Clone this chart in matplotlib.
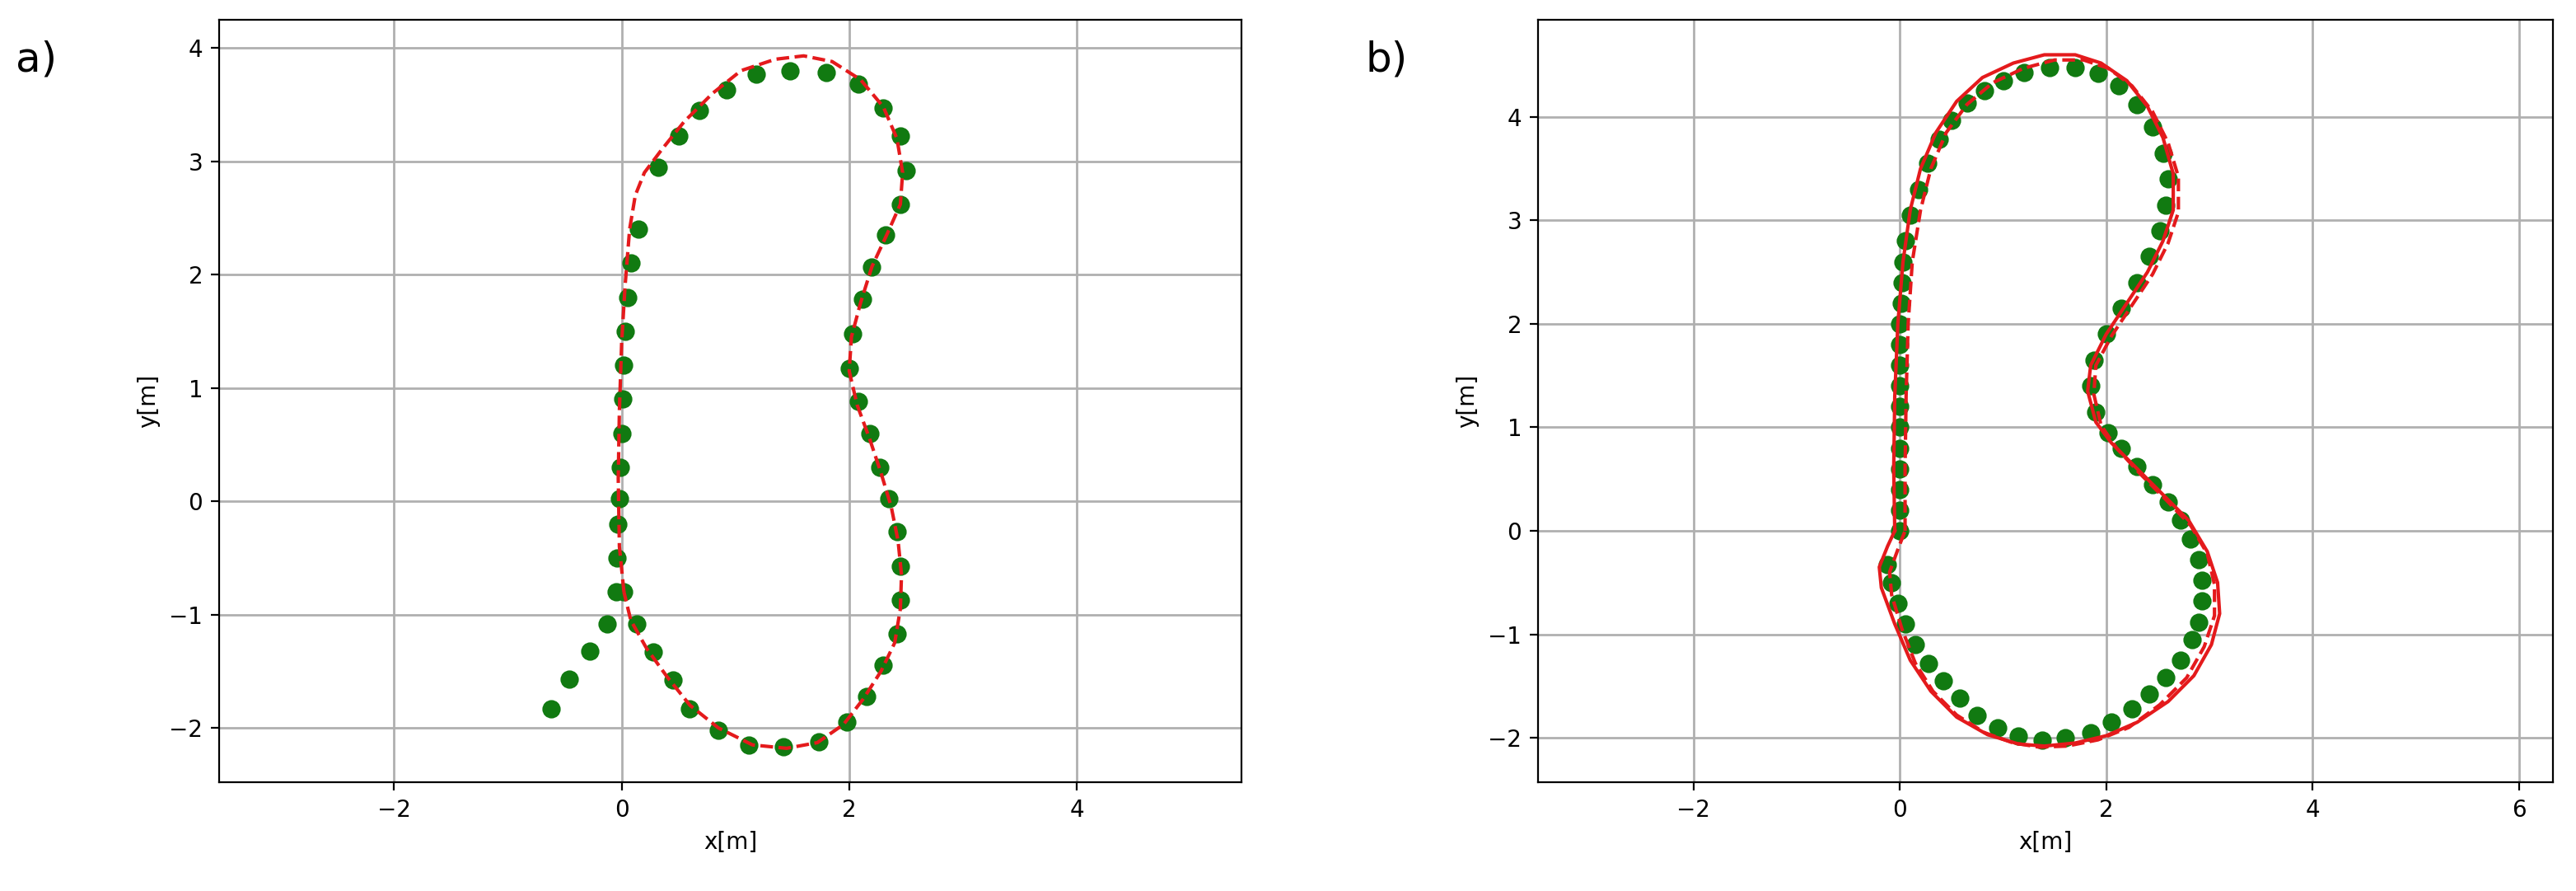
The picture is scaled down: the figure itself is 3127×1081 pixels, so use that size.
import matplotlib
matplotlib.use("Agg")
import matplotlib.pyplot as plt

# Panel a data
a_dots_x = [-0.62,-0.46,-0.28,-0.13,-0.05,-0.04,-0.03,-0.02,-0.01,0.0,0.01,0.02,0.03,0.05,0.08,0.15,
            0.32,0.5,0.68,0.92,1.18,1.48,1.8,2.08,2.3,2.45,2.5,2.45,2.32,2.2,2.12,2.03,2.0,2.08,2.18,
            2.27,2.35,2.42,2.45,2.45,2.42,2.3,2.15,1.98,1.73,1.42,1.12,0.85,0.6,0.45,0.28,0.13,0.02]
a_dots_y = [-1.83,-1.57,-1.32,-1.08,-0.8,-0.5,-0.2,0.02,0.3,0.6,0.9,1.2,1.5,1.8,2.1,2.4,
            2.95,3.22,3.45,3.63,3.77,3.8,3.78,3.68,3.47,3.22,2.92,2.62,2.35,2.07,1.78,1.48,1.17,0.88,0.6,
            0.3,0.02,-0.27,-0.57,-0.87,-1.17,-1.45,-1.72,-1.95,-2.12,-2.17,-2.15,-2.02,-1.83,-1.58,-1.33,-1.08,-0.8]
a_line_x = [0.02,-0.02,-0.03,-0.02,0.0,0.03,0.07,0.12,0.2,0.35,0.55,0.8,1.05,1.35,1.6,1.85,2.1,2.3,2.42,
            2.47,2.45,2.33,2.2,2.1,2.02,2.0,2.07,2.18,2.28,2.37,2.43,2.46,2.45,2.4,2.28,2.12,1.95,1.72,
            1.45,1.15,0.85,0.6,0.4,0.22,0.08,0.02]
a_line_y = [-0.8,-0.4,0.2,0.8,1.4,1.9,2.4,2.7,2.9,3.1,3.35,3.6,3.8,3.9,3.93,3.88,3.72,3.48,3.2,
            2.9,2.62,2.35,2.07,1.75,1.45,1.15,0.85,0.55,0.25,-0.05,-0.35,-0.65,-0.95,-1.25,-1.5,-1.75,-1.97,-2.13,
            -2.18,-2.15,-2.0,-1.8,-1.55,-1.3,-1.05,-0.8]

# Panel b data
b_dots_x = [0.0,0.0,0.0,0.0,0.0,0.0,0.0,0.0,0.0,0.0,0.0,0.01,0.02,0.03,0.05,0.1,0.18,0.27,0.38,0.5,0.65,0.82,1.0,1.2,1.45,1.7,1.92,
            2.12,2.3,2.45,2.55,2.6,2.58,2.52,2.42,2.3,2.15,2.0,1.88,1.85,1.9,2.02,2.15,2.3,2.45,2.6,2.72,
            2.82,2.9,2.93,2.93,2.9,2.83,2.72,2.58,2.42,2.25,2.05,1.85,1.6,1.38,1.15,0.95,0.75,0.58,0.42,
            0.28,0.15,0.05,-0.02,-0.08,-0.12]
b_dots_y = [0.0,0.2,0.4,0.6,0.8,1.0,1.2,1.4,1.6,1.8,2.0,2.2,2.4,2.6,2.8,3.05,3.3,3.55,3.78,3.97,4.13,4.25,4.35,4.43,4.48,4.48,4.42,
            4.3,4.12,3.9,3.65,3.4,3.15,2.9,2.65,2.4,2.15,1.9,1.65,1.4,1.15,0.95,0.8,0.62,0.45,0.28,0.1,
            -0.08,-0.28,-0.48,-0.68,-0.88,-1.05,-1.25,-1.42,-1.58,-1.72,-1.85,-1.95,-2.0,-2.02,-1.98,-1.9,-1.78,-1.62,-1.45,
            -1.28,-1.1,-0.9,-0.7,-0.5,-0.33]
b_solid_x = [-0.05,-0.06,-0.05,-0.02,0.03,0.1,0.2,0.35,0.55,0.8,1.1,1.4,1.7,1.95,2.2,2.4,2.55,2.65,2.65,2.55,
             2.4,2.2,2.0,1.85,1.82,1.9,2.05,2.3,2.55,2.8,2.98,3.08,3.1,3.02,2.85,2.6,2.3,2.0,1.7,1.4,1.15,
             0.85,0.55,0.3,0.1,-0.05,-0.18,-0.2,-0.12,-0.05]
b_solid_y = [0.0,0.6,1.3,2.0,2.6,3.1,3.5,3.85,4.15,4.38,4.52,4.6,4.6,4.52,4.35,4.1,3.8,3.45,3.1,2.8,
             2.5,2.2,1.9,1.6,1.35,1.05,0.85,0.6,0.35,0.1,-0.2,-0.5,-0.8,-1.1,-1.4,-1.65,-1.85,-1.98,-2.05,-2.08,-2.06,
             -1.97,-1.8,-1.55,-1.25,-0.9,-0.55,-0.35,-0.15,0.0]
b_dash_x = [0.05,0.05,0.06,0.08,0.12,0.2,0.3,0.45,0.65,0.9,1.2,1.5,1.78,2.02,2.25,2.45,2.6,2.7,2.7,2.6,
            2.45,2.25,2.05,1.9,1.88,1.95,2.1,2.33,2.58,2.82,2.98,3.05,3.05,2.95,2.78,2.52,2.22,1.92,1.62,1.35,1.1,
            0.82,0.55,0.32,0.15,0.02,-0.08,-0.1,-0.02,0.05]
b_dash_y = [0.0,0.6,1.3,2.0,2.6,3.1,3.5,3.85,4.12,4.33,4.47,4.55,4.55,4.47,4.3,4.05,3.75,3.42,3.08,2.78,
            2.48,2.18,1.88,1.6,1.32,1.02,0.8,0.55,0.3,0.05,-0.22,-0.52,-0.82,-1.12,-1.42,-1.68,-1.9,-2.02,-2.08,-2.09,-2.05,
            -1.95,-1.78,-1.55,-1.28,-0.95,-0.62,-0.4,-0.18,0.0]

fig = plt.figure(figsize=(15.635, 5.405), dpi=200)
axa = fig.add_axes([0.085, 0.122, 0.397, 0.856])
axb = fig.add_axes([0.597, 0.122, 0.394, 0.856])

axa.plot(a_line_x, a_line_y, color='#e41a1c', ls='--', lw=1.5, zorder=3)
axa.plot(a_dots_x, a_dots_y, 'o', color='#117a11', ms=7, ls='none', zorder=2)
axa.set_xlim(-3.54, 5.45); axa.set_ylim(-2.48, 4.25)
axa.set_xticks([-2, 0, 2, 4]); axa.set_yticks([-2, -1, 0, 1, 2, 3, 4])

axb.plot(b_solid_x, b_solid_y, color='#e41a1c', ls='-', lw=1.5, zorder=3)
axb.plot(b_dash_x, b_dash_y, color='#e41a1c', ls='--', lw=1.5, zorder=3)
axb.plot(b_dots_x, b_dots_y, 'o', color='#117a11', ms=7, ls='none', zorder=2)
axb.set_xlim(-3.51, 6.33); axb.set_ylim(-2.43, 4.94)
axb.set_xticks([-2, 0, 2, 4, 6]); axb.set_yticks([-2, -1, 0, 1, 2, 3, 4])

for ax in (axa, axb):
    ax.grid(True, color='#b0b0b0', lw=1)
    ax.set_axisbelow(True)
    ax.set_xlabel('x[m]', fontsize=10)
    ax.set_ylabel('y[m]', fontsize=10)
    ax.tick_params(labelsize=10)

fig.text(0.006, 0.92, 'a)', fontsize=18)
fig.text(0.530, 0.92, 'b)', fontsize=18)
fig.savefig('out.png', dpi=200)
